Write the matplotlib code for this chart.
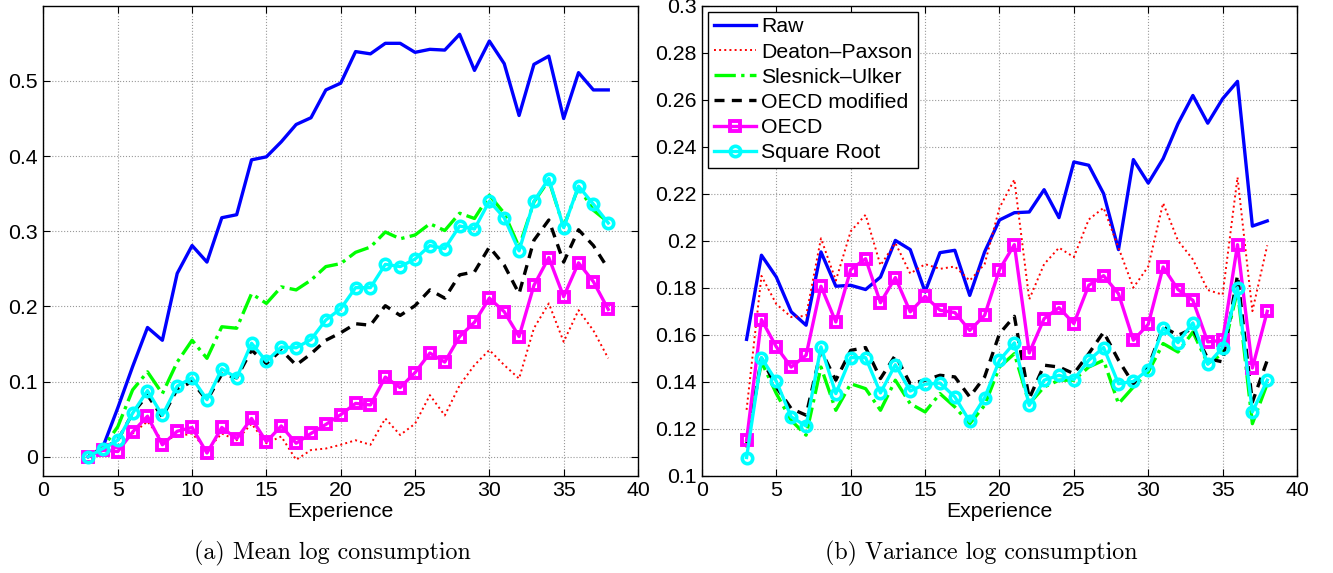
import numpy as np
import matplotlib
matplotlib.use("Agg")
import matplotlib.pyplot as plt
from matplotlib.ticker import FormatStrFormatter

plt.rcParams['font.family'] = ['Liberation Sans', 'DejaVu Sans']
plt.rcParams.update({
    'font.size': 15.3,
    'axes.linewidth': 1.0,
    'xtick.direction': 'in',
    'ytick.direction': 'in',
    'xtick.major.size': 5,
    'ytick.major.size': 5,
    'xtick.top': True,
    'ytick.right': True,
})

# ---- data ----
experience = np.arange(3, 39)
labels = ["Raw", "Deaton\u2013Paxson", "Slesnick\u2013Ulker", "OECD modified", "OECD", "Square Root"]

# mean log consumption
raw_m = [0, 0.013, 0.065, 0.12, 0.172, 0.155, 0.244, 0.281, 0.259, 0.318, 0.322, 0.395,
         0.399, 0.419, 0.442, 0.451, 0.488, 0.497, 0.539, 0.536, 0.55, 0.55, 0.538, 0.542,
         0.541, 0.562, 0.514, 0.553, 0.523, 0.454, 0.522, 0.533, 0.45, 0.511, 0.488, 0.488]
dp_m = [0, 0.008, 0.012, 0.031, 0.047, 0.022, 0.027, 0.031, 0.009, 0.031, 0.022, 0.044,
        0.018, 0.027, -0.004, 0.009, 0.011, 0.016, 0.022, 0.016, 0.051, 0.029, 0.044, 0.082,
        0.055, 0.095, 0.122, 0.142, 0.122, 0.104, 0.171, 0.204, 0.153, 0.195, 0.168, 0.131]
su_m = [0, 0.012, 0.04, 0.089, 0.113, 0.084, 0.126, 0.155, 0.131, 0.173, 0.171, 0.217,
        0.204, 0.226, 0.222, 0.235, 0.253, 0.257, 0.272, 0.279, 0.299, 0.29, 0.295, 0.31,
        0.301, 0.324, 0.317, 0.348, 0.324, 0.279, 0.339, 0.368, 0.306, 0.359, 0.328, 0.312]
om_m = [0, 0.011, 0.022, 0.058, 0.082, 0.053, 0.09, 0.1, 0.075, 0.11, 0.105, 0.142,
        0.124, 0.142, 0.122, 0.137, 0.155, 0.165, 0.177, 0.175, 0.201, 0.188, 0.201, 0.222,
        0.211, 0.242, 0.246, 0.279, 0.255, 0.217, 0.288, 0.315, 0.259, 0.302, 0.281, 0.25]
oecd_m = [0, 0.009, 0.007, 0.033, 0.054, 0.016, 0.034, 0.039, 0.005, 0.039, 0.024, 0.051,
          0.02, 0.041, 0.018, 0.031, 0.043, 0.056, 0.071, 0.069, 0.106, 0.092, 0.112, 0.138,
          0.126, 0.16, 0.179, 0.211, 0.193, 0.16, 0.228, 0.265, 0.213, 0.258, 0.233, 0.196]
sr_m = [0, 0.011, 0.022, 0.058, 0.088, 0.055, 0.094, 0.105, 0.076, 0.117, 0.105, 0.151,
        0.127, 0.146, 0.145, 0.156, 0.182, 0.197, 0.225, 0.225, 0.256, 0.253, 0.263, 0.281,
        0.277, 0.307, 0.303, 0.34, 0.318, 0.274, 0.34, 0.37, 0.305, 0.36, 0.336, 0.311]

# variance log consumption
raw_v = [0.158, 0.1938, 0.1845, 0.1697, 0.164, 0.1952, 0.1806, 0.181, 0.1792, 0.1845, 0.2001, 0.1962,
         0.1782, 0.1949, 0.1959, 0.1767, 0.1952, 0.2088, 0.2119, 0.2122, 0.2217, 0.2098, 0.2335, 0.2321,
         0.22, 0.1962, 0.2345, 0.2245, 0.2349, 0.2498, 0.2618, 0.25, 0.2604, 0.2678, 0.2062, 0.2084]
dp_v = [0.128, 0.185, 0.173, 0.1675, 0.168, 0.201, 0.183, 0.204, 0.211, 0.1895, 0.199, 0.186,
        0.19, 0.188, 0.189, 0.183, 0.19, 0.214, 0.226, 0.175, 0.19, 0.197, 0.193, 0.209,
        0.214, 0.197, 0.18, 0.189, 0.216, 0.2, 0.192, 0.179, 0.177, 0.227, 0.17, 0.198]
su_v = [0.1136, 0.1484, 0.1349, 0.1235, 0.1172, 0.1462, 0.1278, 0.1391, 0.137, 0.1278, 0.1406, 0.1306,
        0.1271, 0.1349, 0.1292, 0.1221, 0.1299, 0.1462, 0.1519, 0.1306, 0.1377, 0.1406, 0.1406, 0.1462,
        0.1491, 0.1306, 0.1377, 0.1441, 0.1562, 0.1526, 0.1611, 0.1477, 0.1519, 0.1789, 0.1221, 0.1391]
om_v = [0.112, 0.15, 0.1377, 0.1285, 0.1257, 0.1533, 0.1406, 0.1533, 0.1545, 0.1413, 0.1512, 0.1391,
        0.1406, 0.1427, 0.142, 0.1335, 0.142, 0.1604, 0.1678, 0.1328, 0.147, 0.1462, 0.1434, 0.1519,
        0.1611, 0.1491, 0.1391, 0.1462, 0.1633, 0.1597, 0.1626, 0.1498, 0.1484, 0.1853, 0.1313, 0.1491]
oecd_v = [0.115, 0.1664, 0.1548, 0.1462, 0.1512, 0.1806, 0.1654, 0.1877, 0.1923, 0.1736, 0.1843, 0.1697,
          0.1763, 0.1704, 0.1694, 0.1618, 0.1682, 0.1877, 0.1983, 0.1522, 0.1668, 0.1715, 0.1647, 0.181,
          0.1851, 0.1774, 0.1576, 0.1644, 0.1888, 0.1792, 0.1746, 0.1569, 0.1576, 0.1983, 0.1458, 0.1699]
sr_v = [0.1077, 0.1502, 0.1401, 0.125, 0.1211, 0.1548, 0.1349, 0.1502, 0.1502, 0.1352, 0.1472, 0.136,
        0.1389, 0.1394, 0.1335, 0.1231, 0.1331, 0.1491, 0.1565, 0.1299, 0.1406, 0.1427, 0.1409, 0.1491,
        0.1545, 0.1391, 0.1401, 0.1451, 0.1628, 0.1566, 0.165, 0.1474, 0.1545, 0.18, 0.1271, 0.1406]


def draw(ax, raw, dp, su, om, oecd, sr):
    ax.plot(experience, raw, color='#0000ff', lw=2.4, label=labels[0])
    ax.plot(experience, dp, color='#ff0000', lw=1.4, ls=':', label=labels[1])
    ax.plot(experience, su, color='#00ff00', lw=2.4, ls='-.', label=labels[2])
    ax.plot(experience, om, color='black', lw=2.4, ls='--', dashes=(3.0, 2.2), label=labels[3])
    ax.plot(experience, oecd, color='#ff00ff', lw=2.4, marker='s', ms=6.5, mfc='none',
            mew=2.8, label=labels[4])
    ax.plot(experience, sr, color='#00ffff', lw=2.4, marker='o', ms=7.5, mfc='none',
            mew=2.6, label=labels[5])
    ax.set_xlim(0, 40)
    ax.set_xticks(np.arange(0, 41, 5))
    ax.grid(True, ls=':', color='#999999', lw=0.8)
    ax.set_xlabel("Experience", labelpad=1)
    ax.tick_params(labelsize=15.3, pad=4)
    ax.yaxis.set_major_formatter(FormatStrFormatter('%g'))


fig = plt.figure(figsize=(13.33, 5.73), dpi=100)
ax1 = fig.add_axes([0.0326, 0.170, 0.4460, 0.820])
ax2 = fig.add_axes([0.5266, 0.170, 0.4464, 0.820])

draw(ax1, raw_m, dp_m, su_m, om_m, oecd_m, sr_m)
ax1.set_ylim(-0.025, 0.6)
ax1.set_yticks(np.arange(0, 0.51, 0.1))

draw(ax2, raw_v, dp_v, su_v, om_v, oecd_v, sr_v)
ax2.set_ylim(0.1, 0.3)
ax2.set_yticks(np.arange(0.1, 0.301, 0.02))

leg = ax2.legend(loc='upper left', fontsize=15.3, frameon=True, fancybox=False,
                 edgecolor='black', framealpha=1, handlelength=2.0, handletextpad=0.25,
                 labelspacing=0.29, borderaxespad=0.3, borderpad=0.25)
leg.get_frame().set_linewidth(1.0)

fig.text(0.2494, 0.035, "(a) Mean log consumption", fontname='cmr10', fontsize=17.3,
         ha='center', va='center')
fig.text(0.736, 0.035, "(b) Variance log consumption", fontname='cmr10', fontsize=17.3,
         ha='center', va='center')

fig.savefig("out.png", dpi=100)
